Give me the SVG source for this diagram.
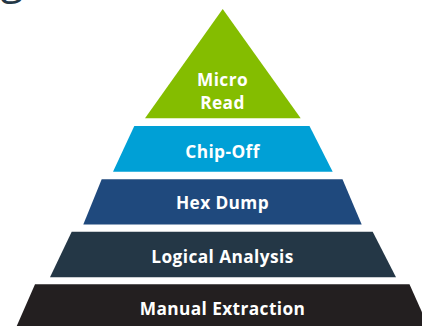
<svg xmlns="http://www.w3.org/2000/svg" width="422" height="326" viewBox="0 0 422 326">
<style>
.lbl{font-family:"Open Sans","Noto Sans","DejaVu Sans",sans-serif;font-weight:700;font-size:17.3px;letter-spacing:0.4px;fill:#ffffff;text-anchor:middle}
</style>
<rect width="422" height="326" fill="#ffffff"/>
<text x="12" y="-6.5" font-family="Open Sans, sans-serif" font-size="42" fill="#243746" text-anchor="middle">g</text>
<g id="micro-read">
<polygon points="222.7,9 300.7,118.3 145,118.3" fill="#84bd00"/>
<text class="lbl" x="222.5" y="86">Micro</text>
<text class="lbl" x="222.5" y="109.3">Read</text>
</g>
<g id="chip-off">
<polygon points="134.3,126 309.5,126 332.7,171.7 113,171.7" fill="#00a0d6"/>
<text class="lbl" x="222.5" y="157.5">Chip-Off</text>
</g>
<g id="hex-dump">
<polygon points="101.7,179.3 342.5,179.3 361.7,224.5 83.3,224.5" fill="#1f497d"/>
<text class="lbl" x="222.5" y="209.3">Hex Dump</text>
</g>
<g id="logical-analysis">
<polygon points="71.7,231.7 372.7,231.7 396,277.3 50,277.3" fill="#243746"/>
<text class="lbl" x="222.5" y="262.7">Logical Analysis</text>
</g>
<g id="manual-extraction">
<polygon points="35,284.3 409.5,284.3 430,330 15,330" fill="#231f20"/>
<text class="lbl" x="222.5" y="315">Manual Extraction</text>
</g>
<g id="connectors"></g>
</svg>
